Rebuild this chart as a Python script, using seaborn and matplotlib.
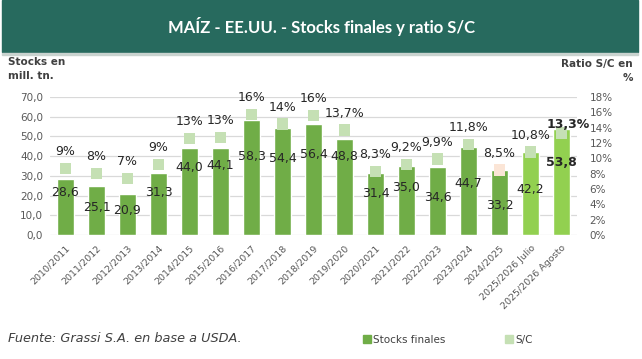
import numpy as np
import pandas as pd
import matplotlib
matplotlib.use("Agg")
import matplotlib.pyplot as plt
import seaborn as sns
from matplotlib.patches import Rectangle
from matplotlib.lines import Line2D

campaigns = ["2010/2011", "2011/2012", "2012/2013", "2013/2014", "2014/2015",
             "2015/2016", "2016/2017", "2017/2018", "2018/2019", "2019/2020",
             "2020/2021", "2021/2022", "2022/2023", "2023/2024", "2024/2025",
             "2025/2026 Julio", "2025/2026 Agosto"]
stocks = [28.6, 25.1, 20.9, 31.3, 44.0, 44.1, 58.3, 54.4, 56.4, 48.8,
          31.4, 35.0, 34.6, 44.7, 33.2, 42.2, 53.8]
ratio_sc = [8.7, 8.0, 7.4, 9.2, 12.6, 12.7, 15.7, 14.5, 15.6, 13.7,
            8.3, 9.2, 9.9, 11.8, 8.5, 10.8, 13.3]
ratio_labels = ["9%", "8%", "7%", "9%", "13%", "13%", "16%", "14%", "16%", "13,7%",
                "8,3%", "9,2%", "9,9%", "11,8%", "8,5%", "10,8%", "13,3%"]
# where Excel left the stock labels (data units)
stock_label_y = [21.8, 14.2, 12.2, 21.8, 34.0, 35.5, 39.6, 39.0, 40.6, 39.6,
                 21.0, 24.0, 19.0, 26.0, 15.0, 23.0, 37.0]

bar_colors = ["#70ad47"] * 15 + ["#92d050"] * 2
marker_colors = ["#c5e0b4"] * 14 + ["#fbe5d6"] + ["#c5e0b4"] * 2

sns.set_style("white")
plt.rcParams["font.family"] = ["DejaVu Sans"]

df = pd.DataFrame({"campaña": campaigns, "stocks": stocks, "ratio": ratio_sc,
                   "pos": np.arange(len(campaigns))})

fig = plt.figure(figsize=(6.42, 3.59), dpi=100)
ax = fig.add_axes([50 / 642, 124 / 359, 527 / 642, 138 / 359])

sns.barplot(data=df, x="campaña", y="stocks", hue="campaña", palette=bar_colors,
            legend=False, width=0.58, ax=ax, saturation=1)
ax.set_ylim(0, 70)
ax.set_xlim(-0.5, len(campaigns) - 0.5)
ax.set_yticks(np.arange(0, 71, 10))
ax.set_yticklabels([f"{v:.1f}".replace(".", ",") for v in np.arange(0, 71, 10)],
                   fontsize=7.5, color="#595959")
ax.grid(axis="y", color="#d9d9d9", linewidth=0.9)
ax.set_axisbelow(True)
for s in ax.spines.values():
    s.set_visible(False)
ax.set_xlabel("")
ax.set_ylabel("")
ax.tick_params(axis="y", length=0, pad=5)
ax.tick_params(axis="x", length=0, pad=6)
ax.set_xticks(range(len(campaigns)))
ax.set_xticklabels(campaigns, rotation=45, ha="right", rotation_mode="anchor",
                   fontsize=6.8, color="#595959")

ax2 = ax.twinx()
sns.scatterplot(data=df, x="pos", y="ratio", hue="campaña", palette=marker_colors,
                marker="s", s=68, linewidth=0, legend=False, ax=ax2, zorder=3)
ax2.set_ylim(0, 18)
ax2.set_yticks(np.arange(0, 19, 2))
ax2.set_yticklabels([f"{v}%" for v in range(0, 19, 2)], fontsize=7.5, color="#595959")
ax2.tick_params(axis="y", length=0, pad=9)
ax2.set_ylabel("")
for s in ax2.spines.values():
    s.set_visible(False)

n = len(campaigns)
for i in range(n):
    last = i == n - 1
    ax.text(i, stock_label_y[i], f"{stocks[i]:.1f}".replace(".", ","), ha="center",
            va="center", fontsize=9, color="#262626", zorder=5,
            fontweight="bold" if last else "normal")
    ax2.annotate(ratio_labels[i], (i, ratio_sc[i]),
                 xytext=(5, 6) if last else (0, 12), textcoords="offset points",
                 ha="center", va="center", fontsize=9, color="#262626", zorder=5,
                 fontweight="bold" if last else "normal")

fig.text(8 / 642, 1 - 69 / 359, "Stocks en\nmill. tn.", fontsize=7.5,
         fontweight="bold", color="#404040", va="center", ha="left", linespacing=1.5)
fig.text(633 / 642, 1 - 71 / 359, "Ratio S/C en\n%", fontsize=7.5,
         fontweight="bold", color="#404040", va="center", ha="right", linespacing=1.5)

# banner
fig.patches.append(Rectangle((2 / 642, 1 - 52 / 359), 636 / 642, 52 / 359,
                             transform=fig.transFigure, color="#276a5e", zorder=0))
fig.patches.append(Rectangle((2 / 642, 1 - 55 / 359), 636 / 642, 2.5 / 359,
                             transform=fig.transFigure, color="#c9d3cf", zorder=0))
fig.text(322 / 642, 1 - 26 / 359, "MAÍZ - EE.UU. - Stocks finales y ratio S/C",
         family=["Lato", "DejaVu Sans"], fontsize=12,
         fontweight="bold", color="white", ha="center", va="center")

# logo: leaf with a G inside
lax = fig.add_axes([598 / 642, 1 - 44 / 359, 36 / 642, 38 / 359])
lax.set_aspect("equal")
lax.axis("off")
d = 1.55
alpha = np.degrees(np.arccos(1 / d))
th = np.radians(np.linspace(45 + alpha, 45 - alpha + 360, 120))
tip = d * np.array([np.cos(np.radians(45)), np.sin(np.radians(45))])
xs = np.concatenate([np.cos(th), [tip[0], np.cos(th[0])]])
ys = np.concatenate([np.sin(th), [tip[1], np.sin(th[0])]])
lax.plot(xs, ys, color="#4cb050", lw=2.2, solid_capstyle="round")
th2 = np.radians(np.linspace(70, 350, 80))
lax.plot(0.58 * np.cos(th2), 0.58 * np.sin(th2), color="#4cb050", lw=2.2,
         solid_capstyle="round")
lax.plot([0.58 * np.cos(th2[-1]), 0.05], [0.58 * np.sin(th2[-1]), -0.05],
         color="#4cb050", lw=2.2, solid_capstyle="round")
lax.set_xlim(-1.2, 1.3)
lax.set_ylim(-1.2, 1.3)

fig.text(8 / 642, 1 - 338 / 359, "Fuente: Grassi S.A. en base a USDA.",
         fontstyle="italic", fontsize=9.3, color="#404040", va="center", ha="left")

handles = [Line2D([], [], marker="s", ls="", color="#70ad47", markersize=6),
           Line2D([], [], marker="s", ls="", color="#c5e0b4", markersize=6)]
fig.legend(handles, ["Stocks finales", "S/C"], loc="center left",
           bbox_to_anchor=(352 / 642, 1 - 340 / 359), ncol=2, frameon=False,
           fontsize=7.5, handletextpad=0.1, columnspacing=5.6, handlelength=1.0,
           labelcolor="#404040")

fig.savefig("out.png", dpi=100)
